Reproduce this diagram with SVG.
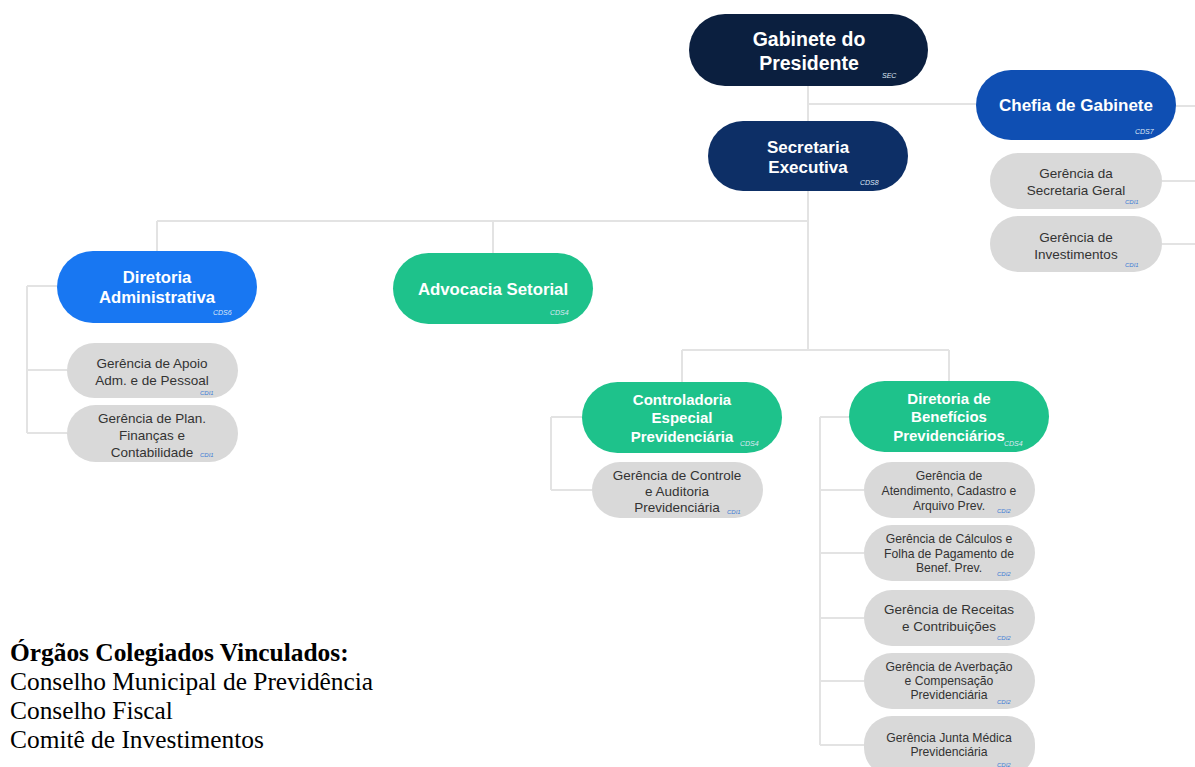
<svg xmlns="http://www.w3.org/2000/svg" width="1195" height="767" viewBox="0 0 1195 767">
<style>
.ln{stroke:#e3e3e3;stroke-width:2;fill:none}
.t{font-family:"Liberation Sans",Arial,sans-serif;text-anchor:middle}
.big{fill:#fff;font-weight:bold}
.g{fill:#d9d9d9}
.gt{fill:#333;font-size:13.5px}
.gs{fill:#333;font-size:12.2px}
.code{font-family:"Liberation Sans",Arial,sans-serif;font-style:italic;font-size:7px}
.cw{fill:#dfe8f5}
.cb{fill:#3a7bd5;font-size:6px}
.leg{font-family:"Liberation Serif","Times New Roman",serif;font-size:25.4px;fill:#000}
</style>
<rect width="1195" height="767" fill="#fff"/>
<g id="connectors">
<path class="ln" d="M808 86V121M808 104H976M1176 106H1195M1162 181H1195M1162 244H1195"/>
<path class="ln" d="M808 191V350M157 221H808M157 221V251M493 221V253"/>
<path class="ln" d="M682 350H949M682 350V382M949 350V381"/>
<path class="ln" d="M27 286V433M27 286H57M27 370H67M27 433H67"/>
<path class="ln" d="M551 417V490M551 417H582M551 490H592"/>
<path class="ln" d="M820 417V745M820 417H849M820 490H864M820 553H864M820 618H864M820 681H864M820 745H864"/>
</g>
<g id="gabinete">
<rect x="689" y="14" width="239" height="72" rx="36" fill="#0b1f3f"/>
<text class="t big" x="809" y="46" font-size="19.5">Gabinete do</text>
<text class="t big" x="809" y="70" font-size="19.5">Presidente</text>
<text class="code cw" x="882" y="78">SEC</text>
</g>
<g id="secretaria">
<rect x="708" y="121" width="200" height="70" rx="35" fill="#0d2f66"/>
<text class="t big" x="808" y="153" font-size="17">Secretaria</text>
<text class="t big" x="808" y="173" font-size="17">Executiva</text>
<text class="code cw" x="860" y="185">CDS8</text>
</g>
<g id="chefia">
<rect x="976" y="70" width="200" height="70" rx="35" fill="#0f4fb3"/>
<text class="t big" x="1076" y="111" font-size="17">Chefia de Gabinete</text>
<text class="code cw" x="1135" y="134">CDS7</text>
</g>
<g id="ger-sec-geral">
<rect class="g" x="990" y="153" width="172" height="56" rx="28"/>
<text class="t gt" x="1076" y="178">Gerência da</text>
<text class="t gt" x="1076" y="195">Secretaria Geral</text>
<text class="code cb" x="1125" y="204">CDI1</text>
</g>
<g id="ger-invest">
<rect class="g" x="990" y="216" width="172" height="56" rx="28"/>
<text class="t gt" x="1076" y="242">Gerência de</text>
<text class="t gt" x="1076" y="259">Investimentos</text>
<text class="code cb" x="1125" y="267">CDI1</text>
</g>
<g id="dir-adm">
<rect x="57" y="251" width="200" height="72" rx="36" fill="#1877f2"/>
<text class="t big" x="157" y="283" font-size="16.7">Diretoria</text>
<text class="t big" x="157" y="303" font-size="16.7">Administrativa</text>
<text class="code cw" x="213" y="315">CDS6</text>
</g>
<g id="ger-apoio">
<rect class="g" x="67" y="343" width="171" height="55" rx="27.5"/>
<text class="t gt" x="152" y="368">Gerência de Apoio</text>
<text class="t gt" x="152" y="385">Adm. e de Pessoal</text>
<text class="code cb" x="200" y="395">CDI1</text>
</g>
<g id="ger-plan">
<rect class="g" x="67" y="405" width="171" height="57" rx="28.5"/>
<text class="t gt" x="152" y="423">Gerência de Plan.</text>
<text class="t gt" x="152" y="440">Finanças e</text>
<text class="t gt" x="152" y="457">Contabilidade</text>
<text class="code cb" x="200" y="457">CDI1</text>
</g>
<g id="advocacia">
<rect x="393" y="253" width="200" height="71" rx="35.5" fill="#1ec28b"/>
<text class="t big" x="493" y="295" font-size="16.8">Advocacia Setorial</text>
<text class="code cw" x="550" y="315">CDS4</text>
</g>
<g id="controladoria">
<rect x="582" y="382" width="200" height="71" rx="35.5" fill="#1ec28b"/>
<text class="t big" x="682" y="405" font-size="15">Controladoria</text>
<text class="t big" x="682" y="423" font-size="15">Especial</text>
<text class="t big" x="682" y="442" font-size="15">Previdenciária</text>
<text class="code cw" x="740" y="446">CDS4</text>
</g>
<g id="ger-controle">
<rect class="g" x="592" y="462" width="171" height="56" rx="28"/>
<text class="t gt" x="677" y="480">Gerência de Controle</text>
<text class="t gt" x="677" y="496">e Auditoria</text>
<text class="t gt" x="677" y="512">Previdenciária</text>
<text class="code cb" x="727" y="514">CDI1</text>
</g>
<g id="dir-beneficios">
<rect x="849" y="381" width="200" height="71" rx="35.5" fill="#1ec28b"/>
<text class="t big" x="949" y="404" font-size="15">Diretoria de</text>
<text class="t big" x="949" y="422" font-size="15">Benefícios</text>
<text class="t big" x="949" y="441" font-size="15">Previdenciários</text>
<text class="code cw" x="1004" y="446">CDS4</text>
</g>
<g id="ger-atendimento">
<rect class="g" x="864" y="462" width="171" height="56" rx="28"/>
<text class="t gs" x="949" y="480">Gerência de</text>
<text class="t gs" x="949" y="495">Atendimento, Cadastro e</text>
<text class="t gs" x="949" y="510">Arquivo Prev.</text>
<text class="code cb" x="997" y="513">CDI2</text>
</g>
<g id="ger-calculos">
<rect class="g" x="864" y="525" width="171" height="56" rx="28"/>
<text class="t gs" x="949" y="543">Gerência de Cálculos e</text>
<text class="t gs" x="949" y="558">Folha de Pagamento de</text>
<text class="t gs" x="949" y="572">Benef. Prev.</text>
<text class="code cb" x="997" y="576">CDI2</text>
</g>
<g id="ger-receitas">
<rect class="g" x="864" y="590" width="171" height="56" rx="28"/>
<text class="t gt" x="949" y="614">Gerência de Receitas</text>
<text class="t gt" x="949" y="631">e Contribuições</text>
<text class="code cb" x="997" y="640">CDI2</text>
</g>
<g id="ger-averbacao">
<rect class="g" x="864" y="653" width="171" height="56" rx="28"/>
<text class="t gs" x="949" y="671">Gerência de Averbação</text>
<text class="t gs" x="949" y="685">e Compensação</text>
<text class="t gs" x="949" y="699">Previdenciária</text>
<text class="code cb" x="997" y="704">CDI2</text>
</g>
<g id="ger-junta">
<rect class="g" x="864" y="716" width="171" height="60" rx="28"/>
<text class="t gs" x="949" y="742">Gerência Junta Médica</text>
<text class="t gs" x="949" y="756">Previdenciária</text>
<text class="code cb" x="997" y="767">CDI2</text>
</g>
<g id="legenda">
<text class="leg" x="10" y="661" font-weight="bold">Órgãos Colegiados Vinculados:</text>
<text class="leg" x="10" y="690">Conselho Municipal de Previdência</text>
<text class="leg" x="10" y="719">Conselho Fiscal</text>
<text class="leg" x="10" y="748">Comitê de Investimentos</text>
</g>
</svg>
